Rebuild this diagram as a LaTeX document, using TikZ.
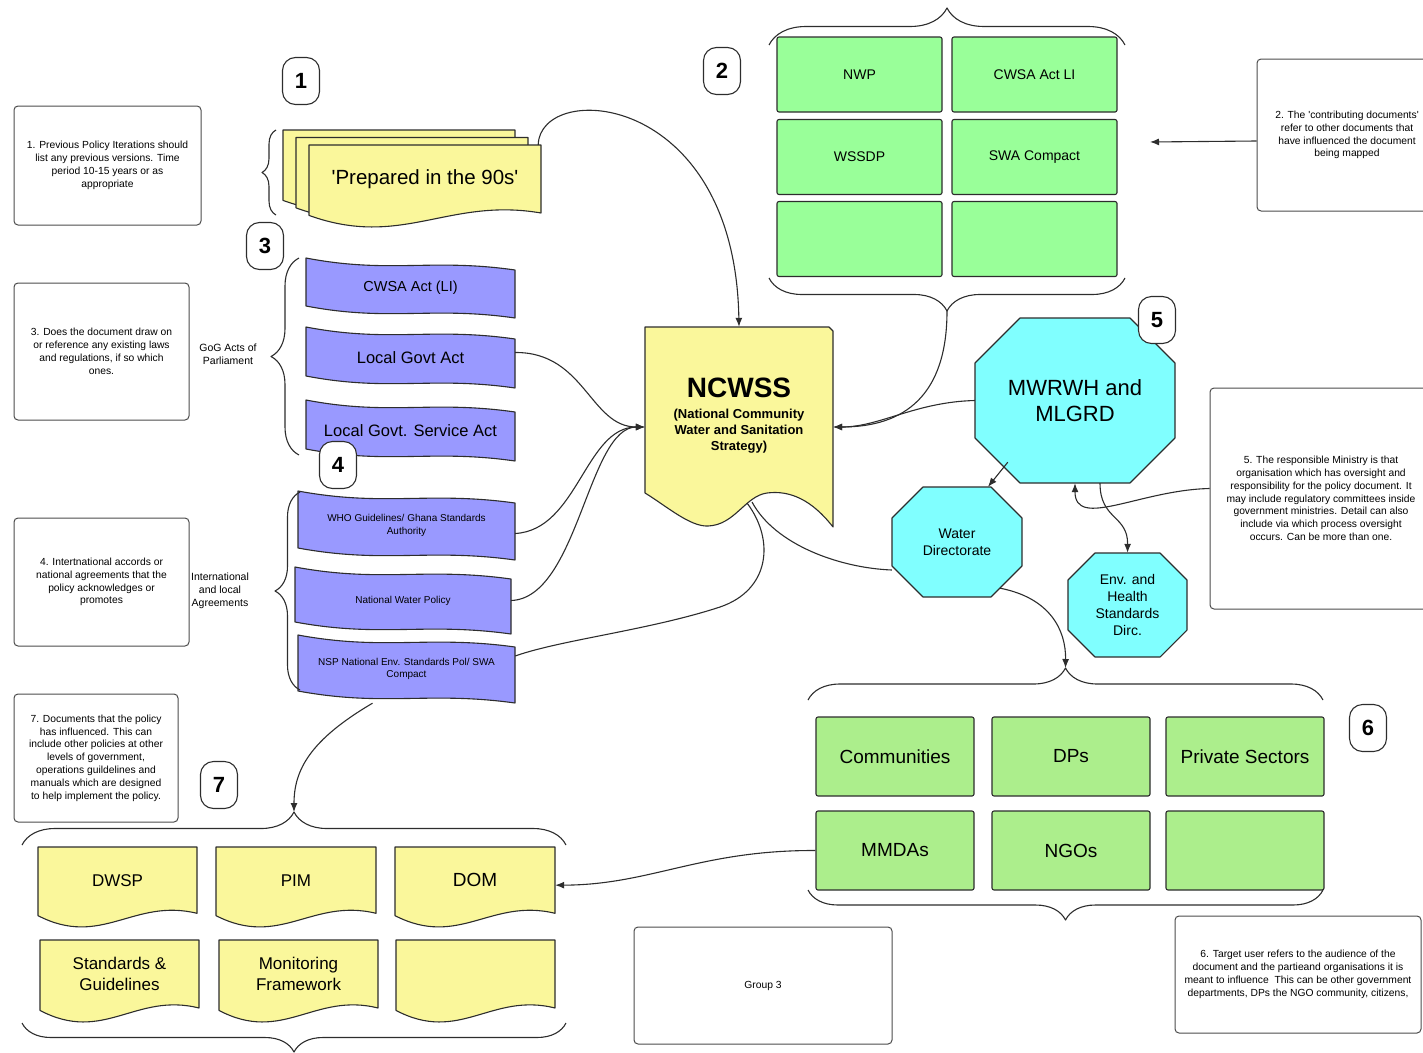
\documentclass[tikz,border=0pt]{standalone}
\usepackage{fontspec}
\setmainfont{Liberation Sans}
\usetikzlibrary{arrows.meta,decorations.pathreplacing,calc}

\definecolor{docyellow}{RGB}{250,247,155}
\definecolor{actpurple}{RGB}{153,153,255}
\definecolor{contribgreen}{RGB}{153,255,153}
\definecolor{usergreen}{RGB}{172,238,140}
\definecolor{ministrycyan}{RGB}{128,255,255}
\definecolor{inkgray}{RGB}{45,45,45}

\newcommand{\fsz}[2]{\fontsize{#1}{#2}\selectfont}

\begin{document}
\begin{tikzpicture}[x=1pt, y=-1pt,
    line join=round,
    outl/.style={draw=inkgray, line width=1.1pt},
    arr/.style={outl, -{Latex[length=9pt,width=7pt]}},
    brc/.style={outl, decorate, decoration={brace, amplitude=#1}},
    note/.style={draw=inkgray!85, line width=1pt, rounded corners=4pt,
                 align=center, inner sep=0pt, font=\fsz{10.3}{12.8}},
    badge/.style={outl, fill=white, rounded corners=13pt, minimum width=37,
                  minimum height=47, inner sep=0pt, font=\fsz{22}{22}\bfseries},
    contrib/.style={outl, fill=contribgreen, rounded corners=2pt, minimum width=165,
                    minimum height=75, inner sep=0pt, font=\fsz{14}{17}},
    user/.style={outl, fill=usergreen, rounded corners=2pt, minimum width=158,
                 minimum height=79, inner sep=0pt, font=\fsz{19}{23}},
    bracetxt/.style={align=center, font=\fsz{10.5}{13}},
    preptxt/.style={font=\fsz{20.5}{24}},
    papertxt/.style={font=\fsz{17}{20.5}},
    bigpapertxt/.style={font=\fsz{19}{22}},
    bigact/.style={font=\fsz{16.5}{20}},
    midact/.style={font=\fsz{14.5}{17}},
    smallact/.style={font=\fsz{10}{12.5}},
    bigocta/.style={font=\fsz{22}{26}},
    smallocta/.style={font=\fsz{14}{17}},
    pics/paper/.style n args={4}{     % yellow sheet with wavy foot
        code={
            \draw[outl, fill=docyellow]
                (-#1/2,-#2/2) -- (#1/2,-#2/2) -- (#1/2,{#2/2-0.15*#2})
                .. controls ({0.1*#1},{#2/2-0.35*#2}) and ({-0.1*#1},{#2/2+0.3*#2})
                .. (-#1/2,{#2/2-0.12*#2}) -- cycle;
            \node[#3, align=center, inner sep=0pt, minimum width=#1,
                  minimum height={0.85*#2}] (-n) at (0,{-0.075*#2}) {#4};
        } % end code
    }, % end pics
    pics/act/.style n args={4}{       % purple banner, wavy top and foot
        code={
            \draw[outl, fill=actpurple]
                (-#1/2,-#2/2) .. controls ({-0.1*#1},{-#2/2+16}) and ({0.1*#1},-#2/2)
                .. (#1/2,{-#2/2+12}) -- (#1/2,#2/2)
                .. controls ({0.1*#1},{#2/2-12}) and ({-0.1*#1},{#2/2+4})
                .. (-#1/2,{#2/2-12}) -- cycle;
            \node[#3, align=center, inner sep=0pt, minimum width=#1,
                  minimum height=#2] (-n) at (0,0) {#4};
        } % end code
    }, % end pics
    pics/octa/.style n args={5}{      % ministry octagon
        code={
            \draw[outl, fill=ministrycyan]
                ({-#1/2+#3},-#2/2) -- ({#1/2-#3},-#2/2) -- (#1/2,{-#2/2+#3})
                -- (#1/2,{#2/2-#3}) -- ({#1/2-#3},#2/2) -- ({-#1/2+#3},#2/2)
                -- (-#1/2,{#2/2-#3}) -- (-#1/2,{-#2/2+#3}) -- cycle;
            \node[#4, align=center, inner sep=0pt, minimum width=#1,
                  minimum height=#2] (-o) at (0,0) {#5};
        } % end code
    }, % end pics
 ]
    \useasboundingbox (0,0) rectangle (1423,1052);
    \clip (0,0) rectangle (1423,1052);

    % ~~~ explanatory notes ~~~~~~~~~~~~~~~~~~~~~~~~~
    \node[note, minimum width=187, minimum height=119] (note1) at (107.5,165.5)
        {1. Previous Policy Iterations should\\list any previous versions. Time\\period 10-15 years or as\\appropriate};
    \node[note, minimum width=175, minimum height=137] (note3) at (101.5,351.5)
        {3. Does the document draw on\\or reference any existing laws\\and regulations, if so which\\ones.};
    \node[note, minimum width=175, minimum height=128] (note4) at (101.5,582)
        {4. Intertnational accords or\\national agreements that the\\policy acknowledges or\\promotes};
    \node[note, minimum width=164, minimum height=128] (note7) at (96,758)
        {7. Documents that the policy\\has influenced. This can\\include other policies at other\\levels of government,\\operations guildelines and\\manuals which are designed\\to help implement the policy.};
    \node[note, minimum width=180, minimum height=152] (note2) at (1347,135)
        {2. The \textquotesingle contributing documents\textquotesingle\\refer to other documents that\\have influenced the document\\being mapped};
    \node[note, minimum width=222, minimum height=221] (note5) at (1321,498.5)
        {5. The responsible Ministry is that\\organisation which has oversight and\\responsibility for the policy document. It\\may include regulatory committees inside\\government ministries. Detail can also\\include via which process oversight\\occurs. Can be more than one.};
    \node[note, minimum width=246, minimum height=117] (note6) at (1298,974.5)
        {6. Target user refers to the audience of the\\document and the partieand organisations it is\\meant to influence\ \ This can be other government\\departments, DPs the NGO community, citizens,};
    \node[note, minimum width=258, minimum height=117] (group3) at (763,985.5) {Group 3};

    % ~~~ previous iterations ~~~~~~~~~~~~~~~~~~~~~~~
    \pic at (399,170) {paper={232}{80}{preptxt}{}};
    \pic at (412,177.5) {paper={232}{80}{preptxt}{}};
    \pic (prep) at (425,185) {paper={232}{80}{preptxt}{\textquotesingle Prepared in the 90s\textquotesingle}};

    % ~~~ contributing documents ~~~~~~~~~~~~~~~~~~~~
    \foreach \n/\x/\y/\t in {nwp/859.5/74.5/NWP, cwsa/1034.5/74.5/CWSA Act LI,
                             wssdp/859.5/157/WSSDP, swa/1034.5/157/SWA Compact,
                             cgA/859.5/239/{}, cgB/1034.5/239/{}}
        \node[contrib] (\n) at (\x,\y) {\t};

    % ~~~ acts and agreements ~~~~~~~~~~~~~~~~~~~~~~~
    \pic (cwsaact) at (410.5,288) {act={209}{60}{midact}{CWSA Act (LI)}};
    \pic (lga) at (410.5,357.5) {act={209}{61}{bigact}{Local Govt Act}};
    \pic (lgsa) at (410.5,430.5) {act={209}{61}{bigact}{Local Govt. Service Act}};
    \pic (who) at (406.5,525.5) {act={217}{69}{smallact}{WHO Guidelines/ Ghana Standards\\Authority}};
    \pic (nwpol) at (403,600.5) {act={216}{67}{smallact}{National Water Policy}};
    \pic (nsp) at (406.5,669) {act={217}{68}{smallact}{NSP National Env. Standards Pol/ SWA\\Compact}};

    \node[bracetxt] (goglbl) at (228,354) {GoG Acts of\\Parliament};
    \node[bracetxt] (intlbl) at (220,591) {International\\and local\\Agreements};

    % ~~~ the strategy itself ~~~~~~~~~~~~~~~~~~~~~~~
    \node[minimum width=188, minimum height=200, inner sep=0pt] (ncwss) at (739,427) {};
    \draw[outl, fill=docyellow] (645,327) -- (829,327) -- (833,331) -- (833,527)
        .. controls (812,500) and (790,490) .. (767,493)
        .. controls (745,496) and (735,525) .. (708,526)
        .. controls (690,527) and (665,505) .. (645,493) -- cycle;
    \node[align=center, font=\fsz{13}{16}\bfseries] (ncwsstxt) at (739,416)
        {{\fsz{28}{30}NCWSS}\\[5pt](National Community\\Water and Sanitation\\Strategy)};
    \coordinate (ncwssL) at (747,503);
    \coordinate (ncwssR) at (752,502);

    % ~~~ ministries ~~~~~~~~~~~~~~~~~~~~~~~~~~~~~~~~
    \pic (mw) at (1075,400.5) {octa={200}{165}{45}{bigocta}{MWRWH and\\MLGRD}};
    \pic (wd) at (957,542) {octa={130}{110}{31}{smallocta}{Water\\Directorate}};
    \pic (eh) at (1127.5,605) {octa={119}{104}{27}{smallocta}{Env. and\\Health\\Standards\\Dirc.}};

    % ~~~ target users ~~~~~~~~~~~~~~~~~~~~~~~~~~~~~~
    \foreach \n/\x/\y/\t in {comm/895/756.5/Communities, dps/1071/756.5/DPs,
                             priv/1245/756.5/Private Sectors, mmdas/895/850.5/MMDAs,
                             ngos/1071/850.5/NGOs, ugA/1245/850.5/{}}
        \node[user] (\n) at (\x,\y) {\t};

    % ~~~ influenced documents ~~~~~~~~~~~~~~~~~~~~~~
    \pic (dwsp) at (117.5,886) {paper={159}{78}{papertxt}{DWSP}};
    \pic (pim) at (296,886) {paper={160}{78}{papertxt}{PIM}};
    \pic (dom) at (475,886) {paper={160}{78}{bigpapertxt}{DOM}};
    \pic (stdg) at (119.5,980) {paper={159}{80}{papertxt}{Standards \&\\Guidelines}};
    \pic (monf) at (298.5,980) {paper={159}{80}{papertxt}{Monitoring\\Framework}};
    \pic (emptyp) at (475.5,980) {paper={159}{80}{papertxt}{}};

    % ~~~ braces ~~~~~~~~~~~~~~~~~~~~~~~~~~~~~~~~~~~~
    \draw[brc=14] (276,215) -- (276,130);
    \draw[brc=28] (299,455) -- (299,258);
    \draw[brc=25] (300,690) -- (300,492);
    \draw[brc=37] (769,45) -- (1125,45);
    \draw[brc=33] (1125,278) -- (769,278);
    \draw[brc=32] (808,700) -- (1323,700);
    \draw[brc=30] (1323,890) -- (808,890);
    \draw[brc=33] (22,845) -- (566,845);
    \draw[brc=29] (566,1023) -- (22,1023);
    \coordinate (gridtip) at (947,311);
    \coordinate (usertop) at (1065.5,668);
    \coordinate (bltop) at (294,812);
    \coordinate (contribin) at (1150,142);

    % ~~~ numbered badges ~~~~~~~~~~~~~~~~~~~~~~~~~~~
    \foreach \k/\x/\y in {1/301/81, 2/722/71, 3/265/246, 4/338/465,
                          5/1157/320, 6/1368/728, 7/219/785}
        \node[badge] (badge\k) at (\x,\y) {\k};

    % ~~~ connectors ~~~~~~~~~~~~~~~~~~~~~~~~~~~~~~~~
    \draw[arr] ([xshift=-3pt]prep-n.north east) .. controls (540,80) and (735,90) .. (ncwss.north);
    \draw[arr] (gridtip) .. controls (947,395) and (905,427) .. (ncwss.east);
    \draw[arr] (mw-o.west) .. controls (915,402) and (880,427) .. (ncwss.east);
    \draw[arr] ([yshift=5pt]lga-n.east) .. controls (585,352) and (590,427) .. (ncwss.west);
    \draw[arr] ([yshift=-8pt]who-n.east) .. controls (578,530) and (585,427) .. (ncwss.west);
    \draw[arr] (nwpol-n.east) .. controls (578,598) and (588,427) .. (ncwss.west);
    \draw[outl] ([yshift=13pt]nsp-n.east) .. controls (560,640) and (650,630) .. (720,607)
        .. controls (770,590) and (775,540) .. (ncwssL);
    \draw[outl] (ncwssR) .. controls (775,545) and (840,568) .. ([yshift=-28pt]wd-o.west);
    \draw[arr] ($(wd-o.south east)+(-22,-9)$) .. controls (1050,598) and (1066,630) .. (usertop);
    \draw[arr] ($(mw-o.south west)+(33,-21)$) -- ($(wd-o.north)+(31,0)$);
    \draw[arr] ($(mw-o.south)+(25,0)$) .. controls (1100,520) and (1128,515) .. (eh-o.north);
    \draw[arr] ([yshift=10pt]note5.west) .. controls (1140,490) and (1075,530) .. (mw-o.south);
    \draw[arr] ([yshift=-6pt]note2.west) -- (contribin);
    \draw[arr] (mmdas.west) .. controls (700,850) and (650,885) .. ([yshift=-5pt]dom-n.east);
    \draw[arr] ([xshift=-34pt]nsp-n.south) .. controls (310,740) and (294,770) .. (bltop);
\end{tikzpicture}
\end{document}
